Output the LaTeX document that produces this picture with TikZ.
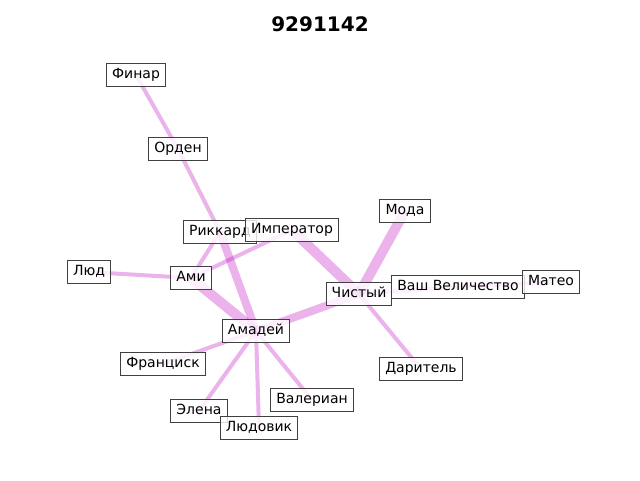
\documentclass[tikz,border=0pt]{standalone}
\usepackage{fontspec}
\setmainfont{DejaVu Sans}
\usetikzlibrary{backgrounds}
\definecolor{edgemag}{RGB}{191,0,191}

\begin{document}
\begin{tikzpicture}[x=0.75pt,y=-0.75pt,-,auto,thick,
    name node/.style={draw=black!75,line width=0.75pt,fill=white,fill opacity=0.8,text opacity=1,
        inner xsep=4.2pt,inner ysep=3.8pt,text height=7.9pt,text depth=2.3pt,font=\fontsize{10.5}{12}\selectfont},
    thin edge/.style={draw=edgemag,draw opacity=0.3,line width=3pt},
    mid edge/.style={draw=edgemag,draw opacity=0.3,line width=6pt},
    fat edge/.style={draw=edgemag,draw opacity=0.3,line width=7.5pt}]
                    \useasboundingbox (0,0) rectangle (640,480);
                    \node[font=\fontsize{15}{18}\selectfont\bfseries] (title) at (320,24) {9291142};

                    \node[name node] (finar) at (136,75) {Финар};
                    \node[name node] (orden) at (178,149) {Орден};
                    \node[name node] (rikkard) at (220,232) {Риккард};
                    \node[name node] (imperator) at (292,230) {Император};
                    \node[name node] (lyud) at (89,272) {Люд};
                    \node[name node] (ami) at (191,278) {Ами};
                    \node[name node] (amadei) at (256,331) {Амадей};
                    \node[name node] (francisk) at (163,364) {Франциск};
                    \node[name node] (elena) at (199,411) {Элена};
                    \node[name node] (lyudovik) at (259,428) {Людовик};
                    \node[name node] (valerian) at (312,400) {Валериан};
                    \node[name node] (chisty) at (359,294) {Чистый};
                    \node[name node] (moda) at (405,211) {Мода};
                    \node[name node] (vashvel) at (458,287) {Ваш Величество};
                    \node[name node] (mateo) at (551,282) {Матео};
                    \node[name node] (daritel) at (421,369) {Даритель};

                    \begin{pgfonlayer}{background}
                    \path
                        (finar.center) edge[thin edge] (orden.center)
                        (orden.center) edge[thin edge] (rikkard.center)
                        (rikkard.center) edge[mid edge] (amadei.center)
                        (rikkard.center) edge[thin edge] (ami.center)
                        (ami.center) edge[thin edge] (imperator.center)
                        (lyud.center) edge[thin edge] (ami.center)
                        (ami.center) edge[fat edge] (amadei.center)
                        (imperator.center) edge[fat edge] (chisty.center)
                        (amadei.center) edge[mid edge] (chisty.center)
                        (chisty.center) edge[fat edge] (moda.center)
                        (chisty.center) edge[thin edge] (daritel.center)
                        (chisty.center) edge[thin edge] (vashvel.center)
                        (vashvel.center) edge[thin edge] (mateo.center)
                        (amadei.center) edge[thin edge] (francisk.center)
                        (amadei.center) edge[thin edge] (elena.center)
                        (amadei.center) edge[thin edge] (lyudovik.center)
                        (amadei.center) edge[thin edge] (valerian.center)
                        ;
                    \end{pgfonlayer}
                \end{tikzpicture}
\end{document}
